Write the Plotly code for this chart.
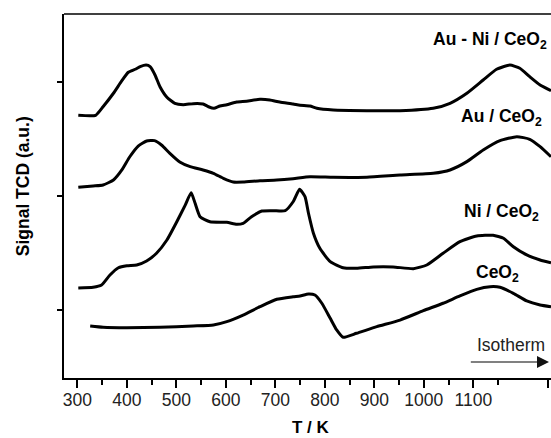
import plotly.graph_objects as go

# H2-TPR profiles (TCD signal, arbitrary units, curves offset vertically)
t_auni = [302, 337, 352, 373, 390, 403, 417, 427, 439, 447, 457, 467, 481, 497, 514, 534,
          554, 565, 576, 588, 602, 622, 642, 669, 689, 709, 736, 750, 770, 784, 817, 885,
          952, 1019, 1053, 1087, 1120, 1147, 1174, 1194, 1214, 1235, 1257]
s_auni = [2.705, 2.705, 2.780, 2.898, 3.008, 3.082, 3.108, 3.131, 3.145, 3.131, 3.058, 2.955,
          2.863, 2.810, 2.798, 2.807, 2.804, 2.780, 2.766, 2.786, 2.798, 2.821, 2.828, 2.845,
          2.839, 2.821, 2.804, 2.793, 2.786, 2.766, 2.751, 2.745, 2.745, 2.766, 2.810, 2.898,
          3.014, 3.108, 3.145, 3.117, 3.043, 2.970, 2.920]

t_au = [302, 332, 352, 373, 390, 406, 423, 440, 456, 470, 487, 507, 528, 554, 575, 595,
        615, 635, 669, 703, 736, 770, 817, 885, 952, 1019, 1053, 1087, 1120, 1154, 1188,
        1214, 1235, 1257]
s_au = [2.074, 2.086, 2.095, 2.138, 2.226, 2.342, 2.436, 2.480, 2.483, 2.445, 2.372, 2.296,
        2.255, 2.226, 2.197, 2.153, 2.121, 2.121, 2.132, 2.138, 2.150, 2.167, 2.162, 2.162,
        2.182, 2.197, 2.226, 2.299, 2.401, 2.483, 2.518, 2.495, 2.430, 2.342]

t_ni = [302, 332, 349, 366, 383, 400, 420, 440, 460, 481, 501, 518, 530, 538, 548, 568,
        602, 622, 635, 652, 673, 696, 720, 736, 749, 760, 767, 777, 790, 811, 837, 864,
        898, 938, 979, 1006, 1039, 1073, 1107, 1140, 1161, 1181, 1208, 1235, 1257]
s_ni = [1.193, 1.199, 1.219, 1.306, 1.370, 1.388, 1.394, 1.429, 1.497, 1.613, 1.773, 1.919,
        2.027, 1.934, 1.817, 1.773, 1.768, 1.750, 1.759, 1.817, 1.867, 1.870, 1.870, 1.948,
        2.057, 1.992, 1.847, 1.672, 1.540, 1.423, 1.370, 1.365, 1.377, 1.377, 1.362, 1.394,
        1.497, 1.598, 1.648, 1.654, 1.628, 1.554, 1.482, 1.438, 1.414]

t_ceo2 = [326, 352, 400, 467, 534, 575, 602, 635, 669, 703, 736, 750, 767, 780, 794, 811,
          824, 837, 864, 905, 952, 999, 1039, 1073, 1107, 1134, 1154, 1181, 1208, 1235, 1257]
s_ceo2 = [0.860, 0.849, 0.845, 0.849, 0.860, 0.869, 0.898, 0.956, 1.029, 1.094, 1.116,
          1.123, 1.140, 1.131, 1.059, 0.927, 0.825, 0.761, 0.796, 0.854, 0.912, 0.994, 1.059,
          1.123, 1.181, 1.204, 1.199, 1.146, 1.079, 1.044, 1.029]

series = [(t_auni, s_auni), (t_au, s_au), (t_ni, s_ni), (t_ceo2, s_ceo2)]

# labels placed beside each profile: (text, T, signal, anchor)
labels = [
    ("Au - Ni / CeO<sub>2</sub>", 1253, 3.36, "right"),
    ("Au / CeO<sub>2</sub>", 1157, 2.69, "center"),
    ("Ni / CeO<sub>2</sub>", 1156, 1.85, "center"),
    ("CeO<sub>2</sub>", 1149, 1.32, "center"),
]

major_ticks = [300, 400, 500, 600, 700, 800, 900, 1000, 1100, 1250]
major_text = ["300", "400", "500", "600", "700", "800", "900", "1000", "1100", ""]
minor_ticks = [350, 450, 550, 650, 750, 850, 950, 1050, 1150]
y_ticks = [1, 2, 3]

FONT = "Liberation Sans, Arial, sans-serif"

fig = go.Figure()
for t, s in series:
    fig.add_trace(go.Scatter(
        x=t, y=s, mode="lines",
        line=dict(color="black", width=3, shape="spline", smoothing=0.5),
        hoverinfo="skip", showlegend=False,
    ))

for text, tx, sy, anchor in labels:
    fig.add_annotation(x=tx, y=sy, xref="x", yref="y", text=text, showarrow=False,
                       xanchor=anchor, yanchor="middle",
                       font=dict(family=FONT, size=17.5, color="black", weight="bold"))

# isotherm marker
fig.add_annotation(x=1177, y=0.69, xref="x", yref="y", text="Isotherm", showarrow=False,
                   xanchor="center", yanchor="middle",
                   font=dict(family=FONT, size=17.5, color="#222"))
fig.add_shape(type="line", x0=1095, x1=1240, y0=0.545, y1=0.545, xref="x", yref="y",
              line=dict(color="#808080", width=2))
fig.add_annotation(x=1253, y=0.545, ax=1236, ay=0.545, xref="x", yref="y",
                   axref="x", ayref="y", text="", showarrow=True, arrowhead=2,
                   arrowsize=1.2, arrowwidth=2, arrowcolor="#111")

# top border of the frame
fig.add_shape(type="line", xref="paper", yref="paper", x0=0, x1=1, y0=1, y1=1,
              line=dict(color="black", width=1.5))

# axis titles
fig.add_annotation(x=0.508, y=-0.137, xref="paper", yref="paper", text="T / K",
                   showarrow=False, xanchor="center", yanchor="middle",
                   font=dict(family=FONT, size=17, color="black", weight="bold"))
fig.add_annotation(x=-0.084, y=0.527, xref="paper", yref="paper",
                   text="Signal TCD (a.u.)", textangle=-90, showarrow=False,
                   xanchor="center", yanchor="middle",
                   font=dict(family=FONT, size=17.5, color="black", weight="bold"))

fig.update_layout(
    width=551, height=438,
    margin=dict(l=64, r=0, t=14, b=60),
    paper_bgcolor="white", plot_bgcolor="white",
    xaxis=dict(
        range=[273.1, 1257], showgrid=False, zeroline=False,
        showline=True, linecolor="black", linewidth=1.5,
        tickmode="array", tickvals=major_ticks, ticktext=major_text,
        ticks="outside", ticklen=8, tickwidth=1.5, tickcolor="black",
        ticklabelstandoff=-3,
        tickfont=dict(family=FONT, size=17.5, color="#222"),
        minor=dict(tickmode="array", tickvals=minor_ticks, ticks="outside",
                   ticklen=5, tickwidth=1.5, tickcolor="black", showgrid=False),
    ),
    yaxis=dict(
        range=[0.4045, 3.592], showgrid=False, zeroline=False,
        showline=True, linecolor="black", linewidth=1.5,
        tickmode="array", tickvals=y_ticks, showticklabels=False,
        ticks="outside", ticklen=5, tickwidth=1.5, tickcolor="black",
    ),
)

fig.write_html("out.html")
